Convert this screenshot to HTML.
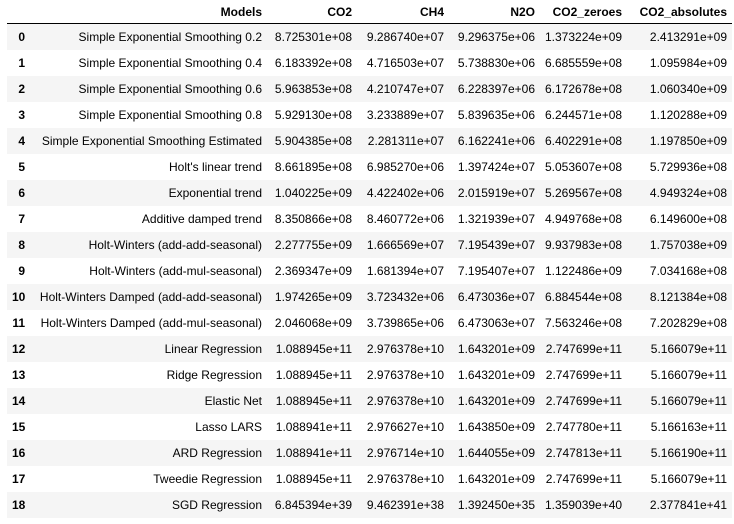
<!DOCTYPE html>
<html><head><meta charset="utf-8"><style>
body{margin:0;background:#fff;width:734px;height:524px;overflow:hidden;font-family:"Liberation Sans",Arial,sans-serif;font-size:12px;color:#000}
table{position:absolute;left:7px;top:0;border-collapse:collapse;table-layout:fixed;width:725px}
th,td{padding:0 5px;text-align:right;height:26px;white-space:nowrap;overflow:visible;border:none}
thead th{height:23px;border-bottom:1px solid #000;font-weight:bold}
tbody th{font-weight:bold}
tbody tr:nth-child(odd){background:#f5f5f5}
</style></head><body>
<table>
<colgroup><col style="width:23px"><col style="width:237px"><col style="width:90px"><col style="width:92px"><col style="width:91px"><col style="width:87px"><col style="width:105px"></colgroup>
<thead><tr><th></th><th>Models</th><th>CO2</th><th>CH4</th><th>N2O</th><th>CO2_zeroes</th><th>CO2_absolutes</th></tr></thead>
<tbody>
<tr><th>0</th><td>Simple Exponential Smoothing 0.2</td><td>8.725301e+08</td><td>9.286740e+07</td><td>9.296375e+06</td><td>1.373224e+09</td><td>2.413291e+09</td></tr>
<tr><th>1</th><td>Simple Exponential Smoothing 0.4</td><td>6.183392e+08</td><td>4.716503e+07</td><td>5.738830e+06</td><td>6.685559e+08</td><td>1.095984e+09</td></tr>
<tr><th>2</th><td>Simple Exponential Smoothing 0.6</td><td>5.963853e+08</td><td>4.210747e+07</td><td>6.228397e+06</td><td>6.172678e+08</td><td>1.060340e+09</td></tr>
<tr><th>3</th><td>Simple Exponential Smoothing 0.8</td><td>5.929130e+08</td><td>3.233889e+07</td><td>5.839635e+06</td><td>6.244571e+08</td><td>1.120288e+09</td></tr>
<tr><th>4</th><td>Simple Exponential Smoothing Estimated</td><td>5.904385e+08</td><td>2.281311e+07</td><td>6.162241e+06</td><td>6.402291e+08</td><td>1.197850e+09</td></tr>
<tr><th>5</th><td>Holt's linear trend</td><td>8.661895e+08</td><td>6.985270e+06</td><td>1.397424e+07</td><td>5.053607e+08</td><td>5.729936e+08</td></tr>
<tr><th>6</th><td>Exponential trend</td><td>1.040225e+09</td><td>4.422402e+06</td><td>2.015919e+07</td><td>5.269567e+08</td><td>4.949324e+08</td></tr>
<tr><th>7</th><td>Additive damped trend</td><td>8.350866e+08</td><td>8.460772e+06</td><td>1.321939e+07</td><td>4.949768e+08</td><td>6.149600e+08</td></tr>
<tr><th>8</th><td>Holt-Winters (add-add-seasonal)</td><td>2.277755e+09</td><td>1.666569e+07</td><td>7.195439e+07</td><td>9.937983e+08</td><td>1.757038e+09</td></tr>
<tr><th>9</th><td>Holt-Winters (add-mul-seasonal)</td><td>2.369347e+09</td><td>1.681394e+07</td><td>7.195407e+07</td><td>1.122486e+09</td><td>7.034168e+08</td></tr>
<tr><th>10</th><td>Holt-Winters Damped (add-add-seasonal)</td><td>1.974265e+09</td><td>3.723432e+06</td><td>6.473036e+07</td><td>6.884544e+08</td><td>8.121384e+08</td></tr>
<tr><th>11</th><td>Holt-Winters Damped (add-mul-seasonal)</td><td>2.046068e+09</td><td>3.739865e+06</td><td>6.473063e+07</td><td>7.563246e+08</td><td>7.202829e+08</td></tr>
<tr><th>12</th><td>Linear Regression</td><td>1.088945e+11</td><td>2.976378e+10</td><td>1.643201e+09</td><td>2.747699e+11</td><td>5.166079e+11</td></tr>
<tr><th>13</th><td>Ridge Regression</td><td>1.088945e+11</td><td>2.976378e+10</td><td>1.643201e+09</td><td>2.747699e+11</td><td>5.166079e+11</td></tr>
<tr><th>14</th><td>Elastic Net</td><td>1.088945e+11</td><td>2.976378e+10</td><td>1.643201e+09</td><td>2.747699e+11</td><td>5.166079e+11</td></tr>
<tr><th>15</th><td>Lasso LARS</td><td>1.088941e+11</td><td>2.976627e+10</td><td>1.643850e+09</td><td>2.747780e+11</td><td>5.166163e+11</td></tr>
<tr><th>16</th><td>ARD Regression</td><td>1.088941e+11</td><td>2.976714e+10</td><td>1.644055e+09</td><td>2.747813e+11</td><td>5.166190e+11</td></tr>
<tr><th>17</th><td>Tweedie Regression</td><td>1.088945e+11</td><td>2.976378e+10</td><td>1.643201e+09</td><td>2.747699e+11</td><td>5.166079e+11</td></tr>
<tr><th>18</th><td>SGD Regression</td><td>6.845394e+39</td><td>9.462391e+38</td><td>1.392450e+35</td><td>1.359039e+40</td><td>2.377841e+41</td></tr>
</tbody></table>
</body></html>
